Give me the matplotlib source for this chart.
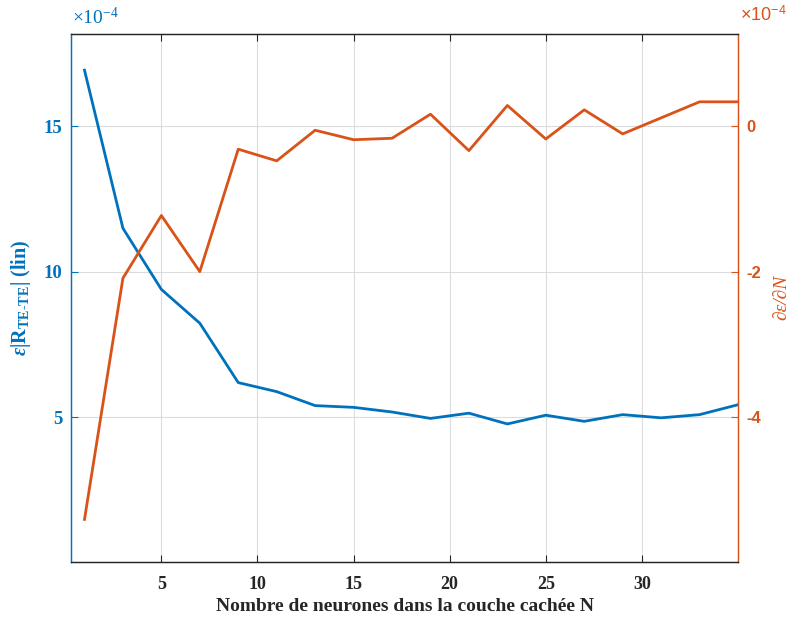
import matplotlib
matplotlib.use("Agg")
import matplotlib.pyplot as plt

# Data (values in units of 1e-4)
neurons = [1, 3, 5, 7, 9, 11, 13, 15, 17, 19, 21, 23, 25, 27, 29, 31, 33, 35]
err = [16.92, 11.49, 9.39, 8.23, 6.19, 5.88, 5.40, 5.34, 5.18, 4.96, 5.14, 4.77,
       5.07, 4.86, 5.09, 4.98, 5.09, 5.43]
deriv = [-5.40, -2.09, -1.23, -2.00, -0.32, -0.48, -0.06, -0.19, -0.17, 0.16,
         -0.34, 0.28, -0.18, 0.22, -0.11, 0.11, 0.33, 0.33]
xticks = [5, 10, 15, 20, 25, 30]
left_ticks = [5, 10, 15]
right_ticks = [-4, -2, 0]

BLUE = "#0072BD"
ORANGE = "#D95319"
DARK = "#262626"

plt.rcParams['axes.unicode_minus'] = False
plt.rcParams['mathtext.fontset'] = 'custom'
plt.rcParams['mathtext.rm'] = 'Liberation Serif:bold'
plt.rcParams['mathtext.bf'] = 'Liberation Serif:bold'
plt.rcParams['mathtext.it'] = 'Liberation Serif:italic:bold'

fig = plt.figure(figsize=(7.91, 6.19), dpi=100)
ax = fig.add_axes([0.0898, 0.0926, 0.933 - 0.0898, 0.945 - 0.0926])
ax2 = ax.twinx()

ax.plot(neurons, err, color=BLUE, lw=2.0, zorder=3)
ax2.plot(neurons, deriv, color=ORANGE, lw=2.0, zorder=3)

ax.set_xlim(0.3, 35)
ax.set_ylim(0.04, 18.16)
ax2.set_ylim(-5.98, 1.26)

ax.set_xticks(xticks)
ax.set_yticks(left_ticks)
ax2.set_yticks(right_ticks)

ax.grid(True, color="#dcdcdc", lw=0.8)
ax.set_axisbelow(True)

serif = 'Liberation Serif'
sans = 'Liberation Sans'

ax.tick_params(axis='x', direction='in', top=True, length=5, width=0.8,
               colors=DARK, pad=10, labelsize=13)
ax.tick_params(axis='y', direction='in', length=5, width=0.8, colors=BLUE,
               pad=6, labelsize=13.5)
ax2.tick_params(axis='y', direction='in', length=5, width=0.8, colors=ORANGE,
                pad=6, labelsize=12)
for lab in ax.get_xticklabels() + ax.get_yticklabels():
    lab.set_fontfamily(serif)
    lab.set_fontweight('bold')
for lab in ax2.get_yticklabels():
    lab.set_fontfamily(sans)
    lab.set_fontweight('bold')

for a in (ax, ax2):
    a.spines['top'].set_color(DARK)
    a.spines['bottom'].set_color(DARK)
    a.spines['left'].set_color(BLUE)
    a.spines['right'].set_color(ORANGE)
    for s in a.spines.values():
        s.set_linewidth(0.9)

ax.set_xlabel("Nombre de neurones dans la couche cachée N", fontfamily=serif,
              fontweight='bold', fontsize=14, color=DARK, labelpad=4)
ax.set_ylabel(r'$\epsilon|\mathbf{R}_{\mathbf{TE}\text{-}\mathbf{TE}}|$ (lin)',
              fontfamily=serif, fontweight='bold', fontsize=14.5, color=BLUE,
              labelpad=8)
ax2.set_ylabel("∂ε/∂N", fontfamily=serif, style='italic', fontsize=14,
               color=ORANGE, rotation=90, labelpad=9)

fig.text(0.091, 0.955, r'×10$^{\mathregular{-4}}$', color=BLUE,
         fontfamily=serif, fontsize=14, ha='left', va='bottom')
fig.text(0.935, 0.960, r'×10$^{\mathregular{-4}}$', color=ORANGE,
         fontfamily=sans, fontsize=13, ha='left', va='bottom')

fig.savefig("out.png", dpi=100)
